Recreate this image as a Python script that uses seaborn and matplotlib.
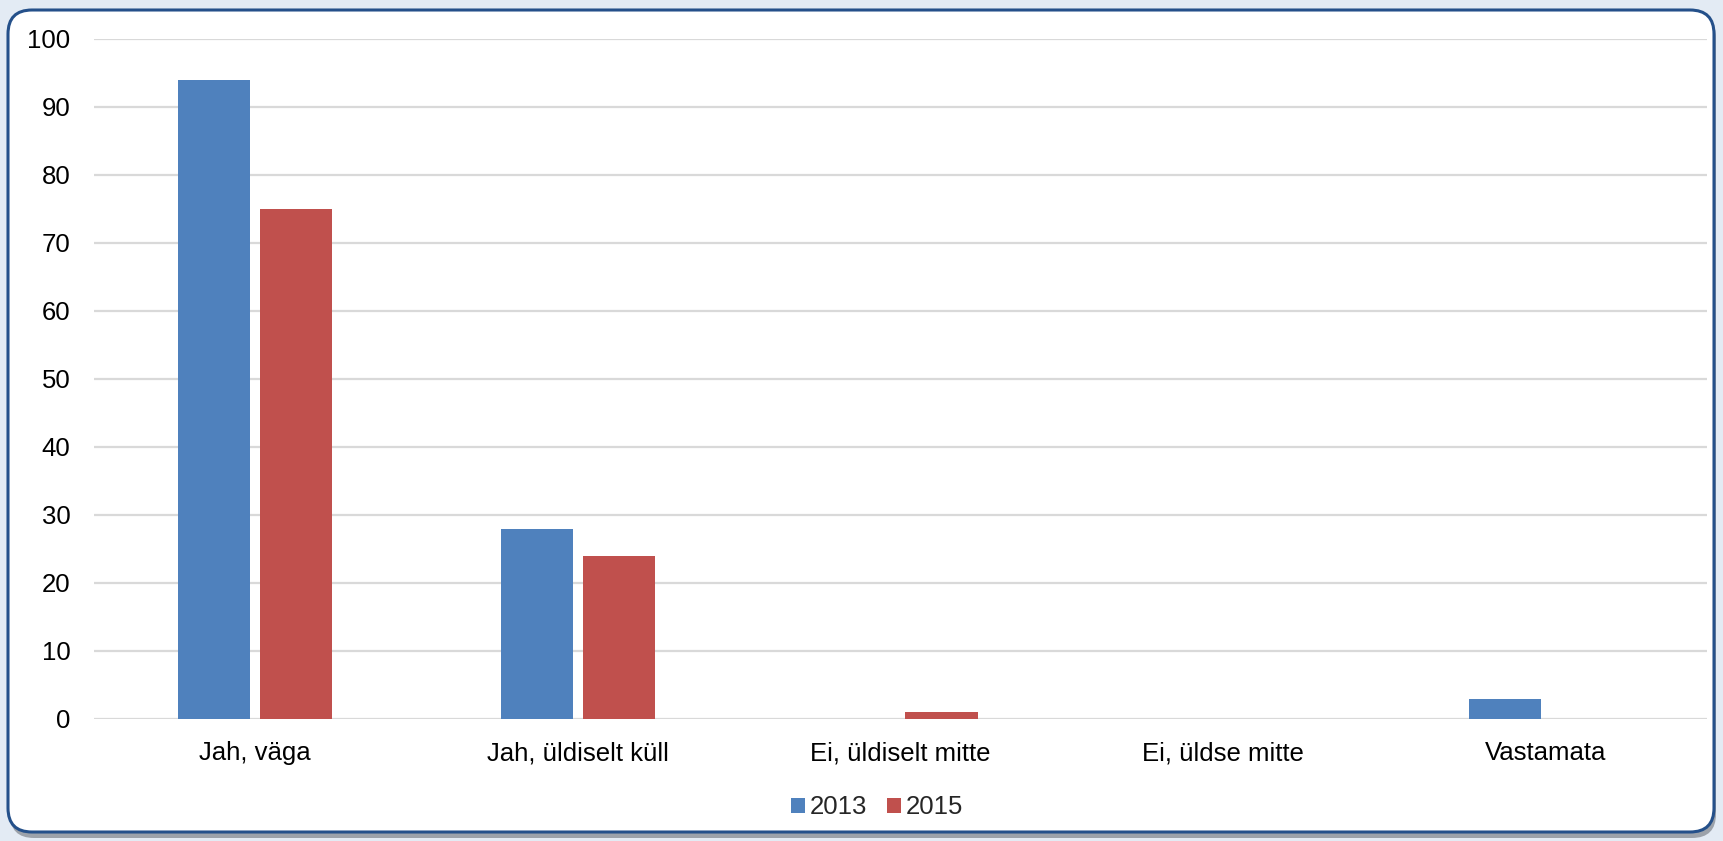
import matplotlib
matplotlib.use("Agg")
import matplotlib.pyplot as plt
import seaborn as sns
import pandas as pd
from matplotlib.patches import FancyBboxPatch, Patch

categories = ["Jah, väga", "Jah, üldiselt küll", "Ei, üldiselt mitte", "Ei, üldse mitte", "Vastamata"]
years = ["2013", "2015"]
values_2013 = [94, 28, 0, 0, 3]
values_2015 = [75, 24, 1, 0, 0]
y_ticks = [0, 10, 20, 30, 40, 50, 60, 70, 80, 90, 100]

colors = {"2013": "#4F81BD", "2015": "#C0504D"}

df = pd.DataFrame({
    "category": categories * 2,
    "year": ["2013"] * len(categories) + ["2015"] * len(categories),
    "value": values_2013 + values_2015,
})

sns.set_theme(style="white")
plt.rcParams["font.family"] = ["Liberation Sans", "DejaVu Sans"]

W, H = 1723, 841
fig = plt.figure(figsize=(W / 100, H / 100), dpi=100)
fig.patch.set_facecolor("#e3ebf4")

# background frame axes in pixel coordinates
bg = fig.add_axes([0, 0, 1, 1], zorder=0)
bg.set_xlim(0, W)
bg.set_ylim(H, 0)
bg.axis("off")
shadow = FancyBboxPatch((10, 14), 1706, 824, boxstyle="round,pad=0,rounding_size=24",
                        facecolor="#7f848b", edgecolor="none", alpha=0.7)
bg.add_patch(shadow)
frame = FancyBboxPatch((8, 10), 1706, 822, boxstyle="round,pad=0,rounding_size=24",
                       facecolor="white", edgecolor="#24508a", linewidth=2.2)
bg.add_patch(frame)

ax = fig.add_axes([94 / W, 1 - 719 / H, (1707 - 94) / W, (719 - 39) / H], zorder=1)
ax.patch.set_alpha(0)

sns.barplot(data=df, x="category", y="value", hue="year", hue_order=years,
            order=categories, palette=colors, width=0.508, gap=0.12,
            saturation=1, ax=ax, legend=False, edgecolor="none", linewidth=0)

ax.set_ylim(0, 100)
ax.set_xlim(-0.5, len(categories) - 0.5)
ax.set_yticks(y_ticks)
ax.yaxis.grid(True, color="#d9d9d9", linewidth=1.6)
ax.set_axisbelow(True)
for s in ax.spines.values():
    s.set_visible(False)
ax.set_xlabel("")
ax.set_ylabel("")
ax.tick_params(axis="y", length=0, pad=17, labelsize=18.5, labelcolor="#000000")
ax.tick_params(axis="x", length=0, pad=16, labelsize=18.5, labelcolor="#000000")

handles = [Patch(facecolor=colors[y], edgecolor="none") for y in years]
fig.legend(handles, years, loc="center", bbox_to_anchor=(0.509, 0.040), ncol=2,
           frameon=False, fontsize=18.5, handlelength=0.55, handleheight=0.55,
           handletextpad=0.2, columnspacing=0.75, borderaxespad=0)

fig.savefig("out.png", dpi=100)
